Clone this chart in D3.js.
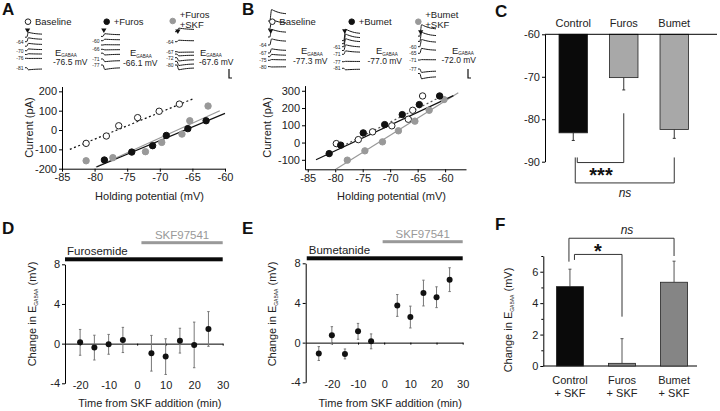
<!DOCTYPE html>
<html><head><meta charset="utf-8">
<script src="https://cdn.jsdelivr.net/npm/d3@7"></script>
<style>body{margin:0;background:#fff}svg{display:block;font-family:"Liberation Sans",Arial,Helvetica,sans-serif}</style>
</head><body><svg id="c" width="720" height="411"></svg>
<script>
// ---------------- DATA ----------------
// Panel A (I-V, furosemide)
const aBaseV = [-81.3,-78.2,-76.3,-73.4,-70.1,-67.0];
const aBaseI = [-69,-31,22,64,97,134];
const aFurosV = [-78.5,-74.3,-71.1,-69.0,-65.7,-62.9];
const aFurosI = [-155,-114,-81,-28,7,48];
const aSkfV = [-81.3,-77.2,-72.2,-69.7,-66.6,-65.4,-62.6];
const aSkfI = [-159,-143,-112,-64,-21,48,124];
const aBaseFit = [[-83.8,-100],[-65,160]];
const aFurosFit = [[-79.7,-191],[-60,86]];
const aSkfFit = [[-79.8,-191],[-60.8,100]];
const aXTicks = [-85,-80,-75,-70,-65,-60];
const aYTicks = [-200,-100,0,100,200];
const aLegend = [["Baseline"],["+Furos"],["+Furos","+SKF"]];
const aEgaba = ["-76.5 mV","-66.1 mV","-67.6 mV"];
const aTraceLabels = [[-64,-70,-76,-81],[-60,-66,-71,-77],[-64,-67,-72,-80]];
const aTraceHold = [[-61,-64,-67,-70,-73,-76,-81],[-57,-60,-63,-66,-68,-71,-77],[-61,-64,-67,-69,-72,-76,-80]];
const aTraceAmp = [[160,130,95,60,25,-5,-70],[90,50,10,-20,-60,-90,-150],[120,50,-20,-60,-110,-140,-160]];
// Panel B (I-V, bumetanide)
const bBaseV = [-79.8,-75.8,-73.2,-69.7,-66.7,-65.9,-64.1];
const bBaseI = [-6,17,62,97,135,187,270];
const bBumetV = [-81.1,-79.0,-74.9,-71.0,-67.8,-64.7,-61.0];
const bBumetI = [-64,-15,56,104,162,220,270];
const bSkfV = [-77.8,-74.6,-71.4,-68.5,-65.5,-62.9,-60.2];
const bSkfI = [-102,-48,4,68,124,187,249];
const bBaseFit = [[-78,-10],[-61,262]];
const bBumetFit = [[-83.5,-100],[-58.5,272]];
const bSkfFit = [[-79.9,-155],[-57.6,288]];
const bXTicks = [-85,-80,-75,-70,-65,-60];
const bYTicks = [-100,0,100,200,300];
const bLegend = [["Baseline"],["+Bumet"],["+Bumet","+SKF"]];
const bEgaba = ["-77.3 mV","-77.0 mV","-72.0 mV"];
const bTraceLabels = [[-64,-67,-75,-80],[-61,-71,-77,-81],[-60,-65,-71,-77]];
const bTraceHold = [[-55,-58,-61,-64,-67,-71,-75,-80],[-53,-57,-61,-66,-71,-77,-81],[-52,-56,-60,-65,-71,-77,-80]];
const bTraceAmp = [[300,250,200,160,110,60,20,-10],[300,250,210,150,90,10,-40],[300,240,190,130,10,-90,-140]];
const traceShape = [0,0,1,0.93,0.86,0.8,0.75,0.71,0.68,0.66,0.64];
// Panel C
const cCats = ["Control","Furos","Bumet"];
const cMeans = [-83.2,-70.2,-82.4];
const cErr = [1.8,2.9,2.1];
const cYTicks = [-60,-70,-80,-90];
// Panel D
const dT = [-20,-15,-10,-5,5,10,15,20,25];
const dMean = [0.13,-0.4,-0.07,0.37,-0.97,-1.31,0.3,-0.13,1.48];
const dErr = [1.3,1.25,1.0,1.27,1.8,1.8,1.25,2.3,1.75];
const dDrugs = [["Furosemide",-25.3,30],["SKF97541",1.5,30]];
// Panel E
const eT = [-25,-20,-15,-10,-5,5,10,15,20,25];
const eMean = [-1.1,0.74,-1.14,1.14,0.13,3.75,2.58,5.0,4.58,6.35];
const eErr = [0.7,0.87,0.5,0.8,0.75,1.1,1.1,1.3,1.05,1.2];
const eDrugs = [["Bumetanide",-29.6,30],["SKF97541",-0.6,30]];
const deXTicks = [-20,-10,0,10,20,30];
const deYTicks = [-4,0,4,8];
// Panel F
const fCats = [["Control","+ SKF"],["Furos","+ SKF"],["Bumet","+ SKF"]];
const fMeans = [5.05,0.17,5.33];
const fErr = [1.11,1.57,1.34];
const fYTicks = [0,2,4,6];
const fMinorTicks = [1,3,5,7];

// ---------------- DRAWING ----------------
const svg = d3.select("#c");
const FS = 11;
const fmt = d => String(d);

function text(g, x, y, s, o = {}) {
  return g.append("text").attr("x", x).attr("y", y).text(s)
    .attr("font-size", o.size || FS).attr("text-anchor", o.anchor || "start")
    .attr("fill", o.fill || "#222").attr("font-weight", o.weight || null)
    .attr("font-style", o.style || null);
}
function styleAxis(sel) {
  sel.selectAll(".domain").attr("stroke", "#000").attr("stroke-width", 1);
  sel.selectAll(".tick line").attr("stroke", "#000");
  sel.selectAll(".tick text").attr("font-size", FS).attr("fill", "#222")
    .attr("font-family", '"Liberation Sans",Arial,sans-serif');
}
function eLabel(g, cx, cy) {
  const t = g.append("text").attr("transform", `translate(${cx},${cy}) rotate(-90)`)
    .attr("text-anchor", "middle").attr("font-size", FS).attr("fill", "#222");
  t.append("tspan").text("Change in E");
  t.append("tspan").text("GABAA").attr("font-size", 5).attr("dy", 2);
  t.append("tspan").text(" (mV)").attr("dy", -2);
}
function panelLetter(x, y, s) { text(svg, x, y, s, {size: 17, weight: "bold", fill: "#111"}); }

// ---- IV panel ----
function ivPanel(o) {
  const g = svg.append("g");
  const x = d3.scaleLinear(o.xDom, o.xRange);
  const y = d3.scaleLinear(o.yDom, o.yRange);
  g.append("g").attr("transform", `translate(0,${o.yRange[0]})`)
    .call(d3.axisBottom(x).tickValues(o.xTicks).tickFormat(fmt).tickSize(3).tickSizeOuter(0).tickPadding(2))
    .call(styleAxis);
  g.append("g").attr("transform", `translate(${o.xRange[0]},0)`)
    .call(d3.axisLeft(y).tickValues(o.yTicks).tickFormat(fmt).tickSize(3).tickSizeOuter(0).tickPadding(2))
    .call(styleAxis);
  text(g, (o.xRange[0] + o.xRange[1]) / 2 + 6, o.yRange[0] + 31, "Holding potential (mV)", {anchor: "middle"});
  g.append("text").attr("transform", `translate(${o.ylabX},${(o.yRange[0] + o.yRange[1]) / 2}) rotate(-90)`)
    .attr("text-anchor", "middle").attr("font-size", FS).attr("fill", "#222").text("Current (pA)");
  const line = d3.line().x(d => x(d[0])).y(d => y(d[1]));
  o.fits.forEach(f => g.append("path").attr("d", line(f.pts)).attr("fill", "none")
    .attr("stroke", f.color).attr("stroke-width", f.w || 1.2).attr("stroke-dasharray", f.dash || null));
  o.series.forEach(s => {
    g.selectAll(null).data(d3.zip(s.v, s.i)).join("circle")
      .attr("cx", d => x(d[0])).attr("cy", d => y(d[1])).attr("r", 3.2)
      .attr("fill", s.fill).attr("stroke", s.stroke).attr("stroke-width", 1);
  });
}

ivPanel({
  xDom: [-85, -60], xRange: [62, 225], yDom: [-200, 225], yRange: [168.7, 86.5],
  xTicks: aXTicks, yTicks: aYTicks, ylabX: 33,
  fits: [
    {pts: aBaseFit, color: "#111", dash: "2,2.5"},
    {pts: aSkfFit, color: "#999"},
    {pts: aFurosFit, color: "#111"}
  ],
  series: [
    {v: aBaseV, i: aBaseI, fill: "#fff", stroke: "#222"},
    {v: aSkfV, i: aSkfI, fill: "#999", stroke: "#999"},
    {v: aFurosV, i: aFurosI, fill: "#111", stroke: "#111"}
  ]
});
ivPanel({
  xDom: [-85.5, -56.2], xRange: [305, 466], yDom: [-155, 330], yRange: [169.3, 85.6],
  xTicks: bXTicks, yTicks: bYTicks, ylabX: 271,
  fits: [
    {pts: bSkfFit, color: "#999"},
    {pts: bBumetFit, color: "#111"},
    {pts: bBaseFit, color: "#555", dash: "2,2.5"}
  ],
  series: [
    {v: bBaseV, i: bBaseI, fill: "#fff", stroke: "#222"},
    {v: bSkfV, i: bSkfI, fill: "#999", stroke: "#999"},
    {v: bBumetV, i: bBumetI, fill: "#111", stroke: "#111"}
  ]
});

// ---- Trace insets ----
function traceGroup(o) {
  const g = svg.append("g");
  const tx = d3.scaleLinear([0, traceShape.length - 1], [o.x0, o.x0 + o.w]);
  const yHold = d3.scaleLinear(o.labels, o.labYs);
  const amp = d3.scaleLinear([0, 100], [0, o.pxPer100]);
  o.holds.forEach((h, k) => {
    const pts = traceShape.map((s, i) => [tx(i), yHold(h) - amp(o.amps[k] * s)]);
    g.append("path").attr("d", d3.line().curve(d3.curveMonotoneX)(pts)).attr("fill", "none").attr("stroke", "#1a1a1a").attr("stroke-width", 1);
  });
  o.labels.forEach(l => text(g, o.x0 - 1.5, yHold(l) + 2, String(l), {size: 5, anchor: "end"}));
  // stimulus triangle
  g.append("path").attr("d", d3.symbol(d3.symbolTriangle, 12)()).attr("fill", "#111")
    .attr("transform", `translate(${tx(1.5)},${o.triY}) rotate(180)`);
  // legend marker and text
  g.append("circle").attr("cx", o.legX).attr("cy", o.legY).attr("r", 2.8)
    .attr("fill", o.legFill).attr("stroke", o.legStroke).attr("stroke-width", 1);
  if (o.legText.length === 1) text(g, o.legX + 7, o.legY + 3.3, o.legText[0], {size: 9.5});
  else { text(g, o.legX + 7, o.legY - 3.3, o.legText[0], {size: 9.5}); text(g, o.legX + 7, o.legY + 6.5, o.legText[1], {size: 9.5}); }
  // E_GABAA
  const e = g.append("text").attr("x", o.ex).attr("y", o.ey).attr("font-size", 9.5).attr("fill", "#222");
  e.append("tspan").text("E");
  e.append("tspan").text("GABAA").attr("font-size", 4.5).attr("dy", 1.5);
  text(g, o.vx, o.ey + 9.5, o.egaba, {size: 8.5});
}
const aLayout = [
  {x0: 25, w: 17, pxPer100: 3, labYs: [41.7, 50.7, 58.3, 67.7], triY: 30, legX: 28, legY: 21.7, ex: 55, ey: 55.5, vx: 53},
  {x0: 101, w: 19, pxPer100: 3, labYs: [40.7, 49.3, 59, 65], triY: 30, legX: 106.7, legY: 21.7, ex: 130, ey: 56, vx: 123},
  {x0: 175, w: 19, pxPer100: 3, labYs: [41.7, 51.7, 57.7, 65], triY: 31, legX: 172.7, legY: 21, ex: 200, ey: 55.5, vx: 199}
];
const bLayout = [
  {x0: 268, w: 18, pxPer100: 3.8, labYs: [45, 53, 60.3, 66.6], triY: 30.7, legX: 272.3, legY: 21.7, ex: 301, ey: 54, vx: 293},
  {x0: 342, w: 18, pxPer100: 3.8, labYs: [46.7, 54.3, 61.7, 68.3], triY: 30.7, legX: 351.7, legY: 21.7, ex: 376, ey: 54, vx: 367.5},
  {x0: 418, w: 18, pxPer100: 3.8, labYs: [46.7, 53.3, 60, 69], triY: 31.7, legX: 418.3, legY: 21.7, ex: 452, ey: 53.5, vx: 441.5}
];
const legStyles = [["#fff", "#222"], ["#111", "#111"], ["#999", "#999"]];
aLayout.forEach((L, k) => traceGroup(Object.assign({}, L, {
  holds: aTraceHold[k], amps: aTraceAmp[k], labels: aTraceLabels[k], legText: aLegend[k], egaba: aEgaba[k],
  legFill: legStyles[k][0], legStroke: legStyles[k][1]})));
bLayout.forEach((L, k) => traceGroup(Object.assign({}, L, {
  holds: bTraceHold[k], amps: bTraceAmp[k], labels: bTraceLabels[k], legText: bLegend[k], egaba: bEgaba[k],
  legFill: legStyles[k][0], legStroke: legStyles[k][1]})));
// scale bars
[229, 468].forEach(sx => svg.append("path").attr("d", `M${sx},69V78H${sx + 3}`).attr("fill", "none").attr("stroke", "#111").attr("stroke-width", 1.2));

// ---- Panel C ----
(function() {
  const g = svg.append("g");
  const x = d3.scaleBand(cCats, [548, 699.5]).paddingInner(0.436).paddingOuter(0.218);
  const y = d3.scaleLinear([-90, -60], [161.7, 34.3]);
  g.append("g").attr("transform", "translate(545,0)")
    .call(d3.axisLeft(y).tickValues(cYTicks).tickFormat(fmt).tickSize(3).tickSizeOuter(0).tickPadding(2)).call(styleAxis);
  const colors = ["#0a0a0a", "#a8a8a8", "#a8a8a8"];
  cCats.forEach((c, i) => {
    const cx = x(c) + x.bandwidth() / 2;
    g.append("line").attr("x1", cx).attr("x2", cx).attr("y1", y(cMeans[i])).attr("y2", y(cMeans[i] - cErr[i])).attr("stroke", "#333");
    g.append("line").attr("x1", cx - 1.5).attr("x2", cx + 1.5).attr("y1", y(cMeans[i] - cErr[i])).attr("y2", y(cMeans[i] - cErr[i])).attr("stroke", "#333");
    g.append("rect").attr("x", x(c)).attr("width", x.bandwidth()).attr("y", y(-60)).attr("height", y(cMeans[i]) - y(-60))
      .attr("fill", colors[i]).attr("stroke", "#222").attr("stroke-width", 0.8);
    text(g, cx, 27, c, {anchor: "middle"});
  });
  g.append("line").attr("x1", 545).attr("x2", 717).attr("y1", y(-60)).attr("y2", y(-60)).attr("stroke", "#000");
  const xc = c => x(c) + x.bandwidth() / 2;
  g.append("path").attr("d", `M${xc("Control") + 4},${y(-89)}V${y(-90.2)}H${xc("Furos")}V${y(-78.6)}`).attr("fill", "none").attr("stroke", "#333");
  g.append("path").attr("d", `M${xc("Control") + 2},${y(-89)}V${y(-95)}H${xc("Bumet")}V${y(-89)}`).attr("fill", "none").attr("stroke", "#333");
  text(g, 601, 182, "***", {size: 20, anchor: "middle", weight: "bold", fill: "#111"});
  text(g, 625, 196.5, "ns", {size: 12, anchor: "middle", style: "italic"});
})();

// ---- Panels D, E ----
function timePanel(o) {
  const g = svg.append("g");
  const x = d3.scaleLinear(o.xDom, o.xRange);
  const y = d3.scaleLinear([-4, 8], o.yRange);
  g.append("g").attr("transform", `translate(${o.xRange[0]},0)`)
    .call(d3.axisLeft(y).tickValues(deYTicks).tickFormat(fmt).tickSize(3).tickSizeOuter(0).tickPadding(2)).call(styleAxis);
  const xa = g.append("g").attr("transform", `translate(0,${y(0)})`)
    .call(d3.axisBottom(x).tickValues(deXTicks).tickFormat(fmt).tickSize(2).tickSizeOuter(0)).call(styleAxis);
  xa.selectAll(".tick text").attr("y", o.yRange[0] - y(0) - 2);
  text(g, (o.xRange[0] + o.xRange[1]) / 2 + 6, 407, "Time from SKF addition (min)", {anchor: "middle"});
  eLabel(g, o.ylabX, 314);
  // drug bars
  const barY = [y(8) - 5, y(8) - 21.6];
  const barH = [4, 3];
  const barC = ["#0a0a0a", "#999"];
  o.drugs.forEach((d, i) => {
    g.append("rect").attr("x", x(d[1])).attr("width", x(d[2]) - x(d[1])).attr("y", barY[i] - barH[i] / 2).attr("height", barH[i]).attr("fill", barC[i]);
  });
  text(g, x(o.drugs[0][1]) + 2, barY[0] - 4, o.drugs[0][0], {size: 11.5});
  text(g, (x(o.drugs[1][1]) + x(o.drugs[1][2])) / 2, barY[1] - 4, o.drugs[1][0], {size: 11.5, anchor: "middle", fill: "#999"});
  // points with error bars
  o.t.forEach((t, i) => {
    const cx = x(t);
    g.append("line").attr("x1", cx).attr("x2", cx).attr("y1", y(o.m[i] - o.e[i])).attr("y2", y(o.m[i] + o.e[i])).attr("stroke", "#777");
    [o.m[i] - o.e[i], o.m[i] + o.e[i]].forEach(v => g.append("line").attr("x1", cx - 1.2).attr("x2", cx + 1.2).attr("y1", y(v)).attr("y2", y(v)).attr("stroke", "#777"));
    g.append("circle").attr("cx", cx).attr("cy", y(o.m[i])).attr("r", 3).attr("fill", "#111");
  });
}
timePanel({xDom: [-25.3, 30], xRange: [65, 222.7], yRange: [383.3, 264.3], t: dT, m: dMean, e: dErr, drugs: dDrugs, ylabX: 36});
timePanel({xDom: [-30, 30], xRange: [305.7, 462.7], yRange: [382.3, 263.3], t: eT, m: eMean, e: eErr, drugs: eDrugs, ylabX: 276});

// ---- Panel F ----
(function() {
  const g = svg.append("g");
  const names = fCats.map(c => c[0]);
  const x = d3.scaleBand(names, [546, 698]).paddingInner(0.48).paddingOuter(0.2);
  const y = d3.scaleLinear([0, 7], [366, 256]);
  g.append("g").attr("transform", "translate(543.3,0)")
    .call(d3.axisLeft(y).tickValues(fYTicks).tickFormat(fmt).tickSize(3).tickSizeOuter(0).tickPadding(2)).call(styleAxis);
  g.append("g").attr("transform", "translate(543.3,0)")
    .call(d3.axisLeft(y).tickValues(fMinorTicks).tickFormat("").tickSize(2).tickSizeOuter(0)).call(styleAxis)
    .select(".domain").remove();
  g.append("line").attr("x1", 543.3).attr("x2", 697).attr("y1", y(0)).attr("y2", y(0)).attr("stroke", "#000");
  eLabel(g, 512, 320);
  const colors = ["#0a0a0a", "#858585", "#858585"];
  names.forEach((c, i) => {
    const cx = x(c) + x.bandwidth() / 2;
    g.append("line").attr("x1", cx).attr("x2", cx).attr("y1", y(fMeans[i])).attr("y2", y(fMeans[i] + fErr[i])).attr("stroke", "#555");
    g.append("line").attr("x1", cx - 1.5).attr("x2", cx + 1.5).attr("y1", y(fMeans[i] + fErr[i])).attr("y2", y(fMeans[i] + fErr[i])).attr("stroke", "#555");
    g.append("rect").attr("x", x(c)).attr("width", x.bandwidth()).attr("y", y(fMeans[i])).attr("height", y(0) - y(fMeans[i]))
      .attr("fill", colors[i]).attr("stroke", "#222").attr("stroke-width", 0.8);
    text(g, cx, 384, fCats[i][0], {anchor: "middle"});
    text(g, cx, 397, fCats[i][1], {anchor: "middle"});
  });
  const xc = c => x(c) + x.bandwidth() / 2;
  g.append("path").attr("d", `M${xc("Control") + 4.5},${y(6.75)}V${y(7.1)}H${xc("Furos")}V${y(3.14)}`).attr("fill", "none").attr("stroke", "#333");
  g.append("path").attr("d", `M${xc("Control") - 1},${y(6.64)}V${y(8.13)}H${xc("Bumet")}V${y(7.0)}`).attr("fill", "none").attr("stroke", "#333");
  text(g, 598, 258, "*", {size: 20, anchor: "middle", weight: "bold", fill: "#111"});
  text(g, 627, 234, "ns", {size: 12, anchor: "middle", style: "italic"});
})();

panelLetter(2, 15, "A"); panelLetter(242, 15, "B"); panelLetter(495, 17, "C");
panelLetter(2, 234, "D"); panelLetter(242, 234, "E"); panelLetter(495, 230, "F");
</script></body></html>
